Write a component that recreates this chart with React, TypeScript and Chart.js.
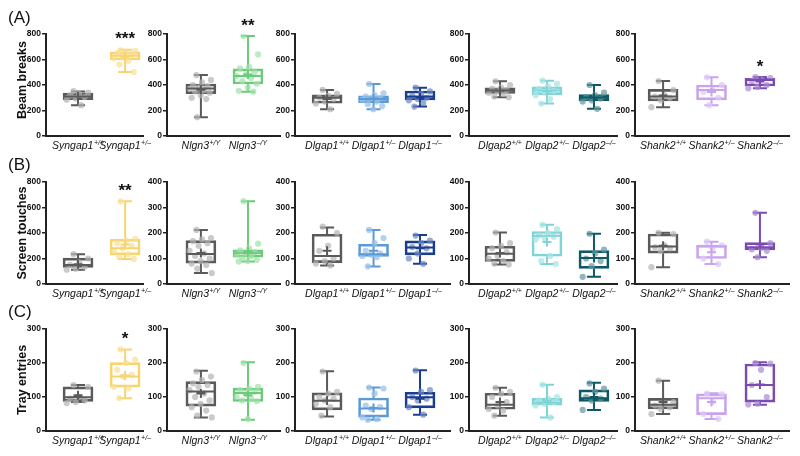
import React, { useEffect, useRef } from "react";
import { Chart, registerables } from "chart.js";
Chart.register(...registerables);

const FONT = '"Liberation Sans", Arial, Helvetica, sans-serif';

// ---------- DATA ----------
const genes = ["Syngap1", "Nlgn3", "Dlgap1", "Dlgap2", "Shank2"];
const genotypes = [
  ["+/+", "+/–"],
  ["+/Y", "–/Y"],
  ["+/+", "+/–", "–/–"],
  ["+/+", "+/–", "–/–"],
  ["+/+", "+/–", "–/–"],
];
const measures = ["Beam breaks", "Screen touches", "Tray entries"];
const rowLetters = ["(A)", "(B)", "(C)"];

const yMaxBeam = [800, 800, 800, 800, 800];
const yMaxTouch = [800, 400, 400, 400, 400];
const yMaxTray = [300, 300, 300, 300, 300];

// box stats per group: [min, q1, median, q3, max, mean]
const beamBoxes = [
  [[242, 285, 310, 336, 350, 310], [502, 596, 630, 660, 677, 622]],
  [[148, 332, 372, 408, 478, 362], [348, 408, 470, 527, 785, 482]],
  [[210, 257, 300, 322, 361, 290], [210, 262, 291, 316, 408, 295], [231, 283, 310, 353, 379, 302]],
  [[304, 333, 356, 377, 429, 355], [255, 325, 356, 385, 434, 352], [213, 278, 302, 325, 400, 300]],
  [[226, 275, 309, 366, 431, 318], [242, 283, 361, 400, 460, 345], [374, 392, 439, 452, 462, 428]],
];
const beamPoints = [
  [[352, 340, 330, 318, 305, 295, 285, 242], [672, 668, 660, 650, 640, 625, 610, 590, 560, 502]],
  [[478, 440, 420, 400, 390, 380, 370, 360, 350, 340, 320, 300, 290, 148], [785, 640, 540, 530, 500, 480, 470, 455, 430, 410, 380, 355, 348]],
  [[361, 330, 315, 300, 290, 270, 255, 210], [408, 335, 320, 310, 300, 295, 285, 270, 250, 235, 210], [380, 350, 330, 315, 300, 290, 280, 260, 231]],
  [[429, 400, 380, 370, 360, 350, 340, 330, 310, 304], [434, 410, 390, 370, 355, 340, 320, 290, 255], [400, 340, 320, 305, 295, 280, 270, 213]],
  [[431, 360, 320, 310, 300, 280, 226], [460, 400, 360, 345, 300, 242], [462, 455, 445, 432, 400, 385, 374]],
];
const beamStars = [["", "***"], ["", "**"], ["", "", ""], ["", "", ""], ["", "", "*"]];

const touchBoxes = [
  [[112, 130, 150, 203, 234, 155], [197, 229, 281, 351, 649, 310]],
  [[43, 82, 118, 170, 212, 122], [88, 105, 121, 134, 325, 128]],
  [[73, 84, 110, 195, 222, 130], [69, 108, 117, 156, 212, 130], [79, 114, 143, 169, 192, 140]],
  [[76, 89, 119, 148, 202, 122], [78, 109, 189, 206, 232, 165], [28, 61, 102, 131, 197, 102]],
  [[66, 121, 147, 196, 201, 150], [78, 100, 147, 153, 166, 125], [105, 134, 144, 162, 279, 155]],
];
const touchPoints = [
  [[234, 200, 170, 150, 135, 120, 112], [649, 355, 340, 320, 300, 280, 260, 235, 210, 197]],
  [[212, 180, 175, 168, 160, 150, 130, 120, 110, 100, 90, 80, 75, 60, 43], [325, 158, 140, 132, 125, 120, 115, 110, 100, 95, 90, 88]],
  [[225, 200, 150, 130, 100, 90, 80, 73], [212, 180, 160, 130, 120, 115, 110, 105, 69], [190, 170, 160, 145, 140, 120, 100, 79]],
  [[202, 160, 150, 140, 125, 110, 100, 90, 80, 76], [232, 215, 200, 190, 185, 180, 175, 110, 90, 78], [197, 135, 120, 100, 90, 70, 28]],
  [[201, 196, 152, 145, 140, 130, 66], [166, 152, 140, 100, 78], [279, 160, 142, 136, 130, 105]],
];
const touchStars = [["", "**"], ["", ""], ["", "", ""], ["", "", ""], ["", "", ""]];

const trayBoxes = [
  [[85, 87, 99, 130, 135, 105], [96, 129, 160, 201, 240, 163]],
  [[40, 73, 116, 145, 177, 110], [33, 87, 112, 126, 202, 105]],
  [[43, 62, 89, 112, 176, 90], [33, 41, 66, 97, 128, 68], [48, 68, 99, 114, 179, 95]],
  [[45, 64, 77, 111, 127, 85], [40, 76, 84, 96, 136, 88], [62, 87, 96, 121, 142, 100]],
  [[50, 65, 77, 96, 148, 85], [35, 48, 96, 109, 111, 85], [77, 85, 135, 197, 202, 137]],
];
const trayPoints = [
  [[135, 130, 100, 95, 90, 85, 82], [240, 210, 200, 180, 165, 160, 130, 125, 97]],
  [[175, 160, 150, 140, 135, 130, 120, 110, 100, 90, 80, 70, 60, 45, 40], [200, 130, 125, 120, 115, 110, 100, 95, 90, 88, 35]],
  [[175, 115, 110, 100, 95, 90, 80, 70, 45], [128, 125, 110, 75, 70, 65, 40, 35, 33], [178, 120, 115, 100, 95, 90, 70, 48]],
  [[127, 115, 110, 100, 85, 75, 65, 60, 45], [136, 100, 95, 90, 85, 80, 75, 40], [140, 125, 115, 100, 95, 90, 62]],
  [[148, 85, 80, 75, 70, 65, 50], [110, 108, 85, 50, 35], [200, 198, 180, 135, 100, 80, 78]],
];
const trayStars = [["", "*"], ["", ""], ["", "", ""], ["", "", ""], ["", "", ""]];

// ---------- STYLE / LAYOUT ----------
const boxColors = [
  ["#5a5a5a", "#f8d46e"],
  ["#5a5a5a", "#6ccb7a"],
  ["#5a5a5a", "#5b9ad6", "#1b3d8e"],
  ["#5a5a5a", "#7fd4d7", "#0d5a66"],
  ["#5a5a5a", "#c8a3ee", "#7a4bb1"],
];
const dotColors = [
  ["rgba(180,180,180,0.7)", "rgba(250,224,150,0.7)"],
  ["rgba(180,180,180,0.7)", "rgba(160,225,170,0.7)"],
  ["rgba(180,180,180,0.7)", "rgba(155,193,234,0.75)", "rgba(110,135,195,0.7)"],
  ["rgba(180,180,180,0.7)", "rgba(170,228,230,0.75)", "rgba(100,150,158,0.7)"],
  ["rgba(180,180,180,0.7)", "rgba(222,200,246,0.75)", "rgba(170,138,210,0.7)"],
];

const AXIS_L = [46, 167, 295, 469, 635];
const AXIS_R = [143, 280, 450, 617, 789];
const X_MIN = [-0.68, -0.72, -0.69, -0.66, -0.58];
const X_MAX = [1.38, 1.68, 2.645, 2.49, 2.6];
const ROW_TOP = [34, 182, 329];
const PLOT_H = 102;
const YW = 40;
const PT = 30;
const PR = 14;
const XH = 22;
const TITLE_Y = [80, 233, 380];
const LETTER_Y = [17.5, 165, 311.5];

const rowBoxes = [beamBoxes, touchBoxes, trayBoxes];
const rowPoints = [beamPoints, touchPoints, trayPoints];
const rowStars = [beamStars, touchStars, trayStars];
const rowMax = [yMaxBeam, yMaxTouch, yMaxTray];

function jitter(j: number) {
  return (((j * 0.618034 + 0.31) % 1) - 0.5) * 0.5;
}

function makePlugin(r: number, p: number) {
  const boxes = rowBoxes[r][p];
  const stars = rowStars[r][p];
  const cols = boxColors[p];
  return {
    id: "boxdeco" + r + "_" + p,
    beforeDatasetsDraw(chart: any) {
      const ctx = chart.ctx;
      const xs = chart.scales.x;
      const ys = chart.scales.y;
      ctx.save();
      ctx.lineWidth = 2;
      boxes.forEach((b: number[], i: number) => {
        const x = xs.getPixelForValue(i);
        ctx.strokeStyle = cols[i];
        ctx.beginPath();
        ctx.moveTo(x, ys.getPixelForValue(b[3]));
        ctx.lineTo(x, ys.getPixelForValue(b[4]));
        ctx.moveTo(x - 7, ys.getPixelForValue(b[4]));
        ctx.lineTo(x + 7, ys.getPixelForValue(b[4]));
        ctx.moveTo(x, ys.getPixelForValue(b[1]));
        ctx.lineTo(x, ys.getPixelForValue(b[0]));
        ctx.moveTo(x - 7, ys.getPixelForValue(b[0]));
        ctx.lineTo(x + 7, ys.getPixelForValue(b[0]));
        ctx.stroke();
      });
      ctx.restore();
    },
    afterDatasetsDraw(chart: any) {
      const ctx = chart.ctx;
      const xs = chart.scales.x;
      const ys = chart.scales.y;
      ctx.save();
      ctx.lineWidth = 2;
      boxes.forEach((b: number[], i: number) => {
        const x = xs.getPixelForValue(i);
        ctx.strokeStyle = cols[i];
        const ym = ys.getPixelForValue(b[2]);
        ctx.beginPath();
        ctx.moveTo(x - 15, ym);
        ctx.lineTo(x + 15, ym);
        const ya = ys.getPixelForValue(b[5]);
        ctx.moveTo(x - 4.5, ya);
        ctx.lineTo(x + 4.5, ya);
        ctx.moveTo(x, ya - 4.5);
        ctx.lineTo(x, ya + 4.5);
        ctx.stroke();
        if (stars[i]) {
          ctx.fillStyle = "#111";
          ctx.font = "bold 17px " + FONT;
          ctx.textAlign = "center";
          ctx.textBaseline = "alphabetic";
          const yc = ys.getPixelForValue(b[4]) - 15;
          ctx.fillText(stars[i], x, yc + 9.7);
        }
      });
      ctx.restore();
    },
    afterDraw(chart: any) {
      const ctx = chart.ctx;
      const xs = chart.scales.x;
      const yb = chart.chartArea.bottom + 13;
      ctx.save();
      ctx.fillStyle = "#111";
      ctx.textAlign = "left";
      ctx.textBaseline = "alphabetic";
      const baseFont = "italic 10.5px " + FONT;
      const supFont = "italic 7px " + FONT;
      genotypes[p].forEach((g: string, i: number) => {
        ctx.font = baseFont;
        const w1 = ctx.measureText(genes[p]).width;
        ctx.font = supFont;
        const w2 = ctx.measureText(g).width;
        const x0 = xs.getPixelForValue(i) - (w1 + w2 + 0.5) / 2;
        ctx.font = baseFont;
        ctx.fillText(genes[p], x0, yb);
        ctx.font = supFont;
        ctx.fillText(g, x0 + w1 + 0.5, yb - 4.5);
      });
      ctx.restore();
    },
  };
}

function Panel({ r, p }: { r: number; p: number }) {
  const ref = useRef<HTMLCanvasElement | null>(null);
  const W = YW + (AXIS_R[p] - AXIS_L[p]) + PR;
  const H = PT + PLOT_H + XH;
  useEffect(() => {
    if (!ref.current) return;
    const boxes = rowBoxes[r][p];
    const pts = rowPoints[r][p];
    const yMax = rowMax[r][p];
    const scatterData: any[] = [];
    const scatterColors: string[] = [];
    pts.forEach((arr: number[], i: number) => {
      arr.forEach((v: number, j: number) => {
        scatterData.push({ x: i + jitter(j), y: v });
        scatterColors.push(dotColors[p][i]);
      });
    });
    const chart = new Chart(ref.current, {
      type: "bar",
      data: {
        datasets: [
          {
            type: "scatter",
            data: scatterData,
            pointRadius: 3.1,
            pointBackgroundColor: scatterColors,
            pointBorderWidth: 0,
            showLine: false,
          } as any,
          {
            type: "bar",
            data: boxes.map((b: number[], i: number) => ({ x: i, y: [b[1], b[3]] })),
            backgroundColor: "rgba(255,255,255,0)",
            borderColor: boxColors[p],
            borderWidth: 2,
            borderSkipped: false,
            barThickness: 30,
          } as any,
        ],
      },
      options: {
        animation: false,
        responsive: false,
        devicePixelRatio: 1,
        events: [],
        layout: { padding: { top: PT, right: PR, left: 0, bottom: 0 } },
        plugins: { legend: { display: false }, tooltip: { enabled: false } },
        scales: {
          x: {
            type: "linear",
            min: X_MIN[p],
            max: X_MAX[p],
            offset: false,
            ticks: { display: false },
            grid: { display: false, offset: false },
            border: { display: true, color: "#222", width: 2 },
            afterFit: (s: any) => {
              s.height = XH;
            },
          },
          y: {
            type: "linear",
            min: 0,
            max: yMax,
            ticks: {
              stepSize: yMax === 300 ? 100 : yMax / 4,
              font: { family: FONT, size: 8.5, weight: "bold" },
              color: "#111",
              padding: 1,
            },
            grid: {
              display: true,
              drawOnChartArea: false,
              drawTicks: true,
              tickLength: 4,
              color: "#222",
              lineWidth: 1.5,
            },
            border: { display: true, color: "#222", width: 2 },
            afterFit: (s: any) => {
              s.width = YW;
            },
          },
        },
      } as any,
      plugins: [makePlugin(r, p)],
    });
    return () => chart.destroy();
  }, [r, p]);
  return (
    <canvas
      ref={ref}
      width={W}
      height={H}
      style={{
        position: "absolute",
        left: AXIS_L[p] - YW,
        top: ROW_TOP[r] - PT,
        width: W,
        height: H,
      }}
    />
  );
}

export default function App() {
  const panels: any[] = [];
  for (let r = 0; r < 3; r++) {
    for (let p = 0; p < 5; p++) {
      panels.push(<Panel key={r + "-" + p} r={r} p={p} />);
    }
  }
  return (
    <div
      style={{
        position: "fixed",
        left: 0,
        top: 0,
        width: 800,
        height: 456,
        background: "#fff",
        overflow: "hidden",
        fontFamily: FONT,
      }}
    >
      {panels}
      {rowLetters.map((t, r) => (
        <div
          key={"l" + r}
          style={{
            position: "absolute",
            left: 8,
            top: LETTER_Y[r] - 9,
            fontSize: 17,
            lineHeight: "18px",
            color: "#111",
          }}
        >
          {t}
        </div>
      ))}
      {measures.map((t, r) => (
        <div
          key={"t" + r}
          style={{
            position: "absolute",
            left: 22,
            top: TITLE_Y[r],
            transform: "translate(-50%, -50%) rotate(-90deg)",
            fontSize: 12.5,
            fontWeight: "bold",
            whiteSpace: "nowrap",
            color: "#111",
            lineHeight: "14px",
          }}
        >
          {t}
        </div>
      ))}
    </div>
  );
}
